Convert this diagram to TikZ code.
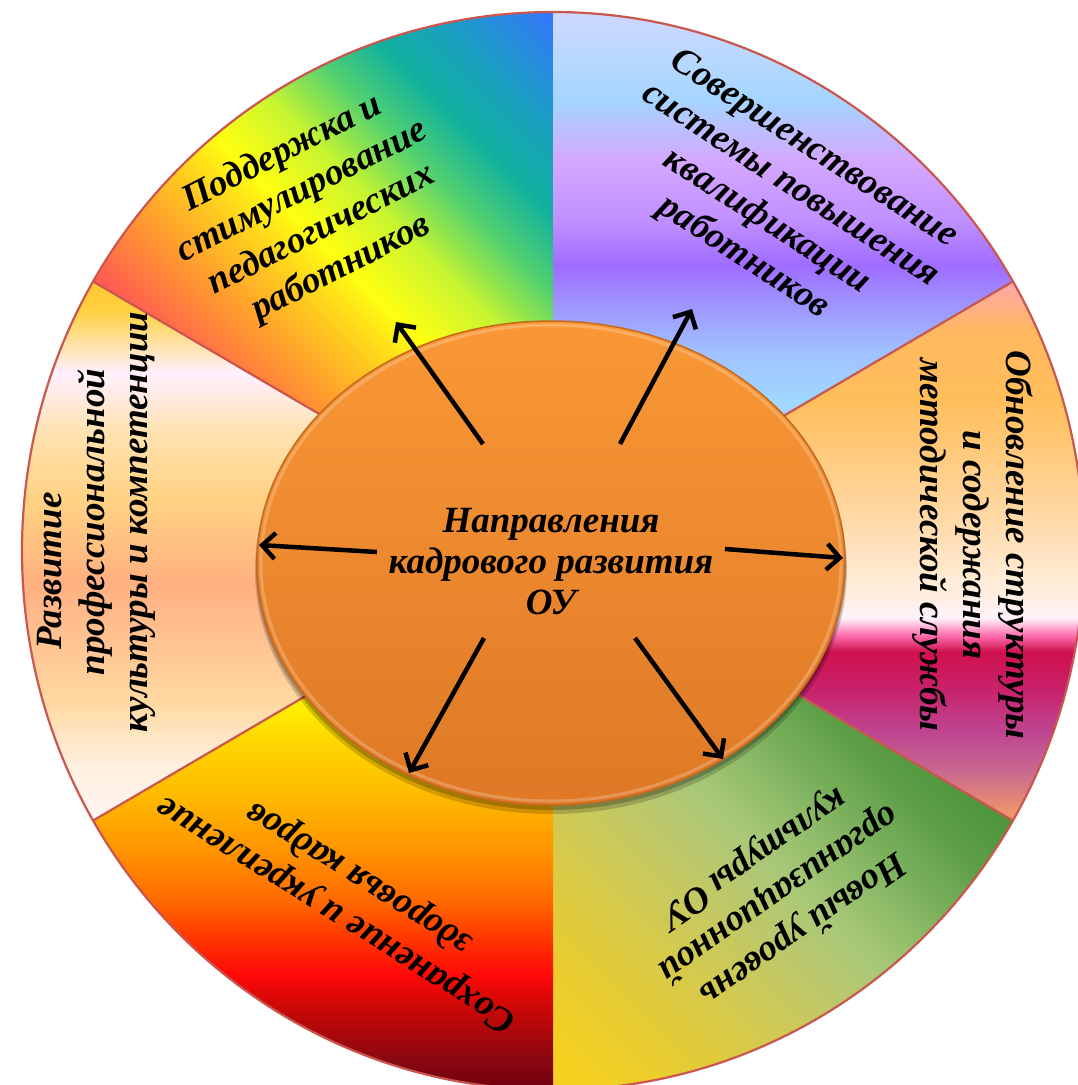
\documentclass[tikz,border=0pt]{standalone}
\usepackage{fontspec}
\setmainfont{Liberation Serif}
\usetikzlibrary{arrows.meta,calc}

\definecolor{ringline}{HTML}{C9574F}
\definecolor{orTop}{HTML}{FA9836}
\definecolor{orBot}{HTML}{DE7826}
\definecolor{orEdge}{HTML}{C4691F}

% sector 1 (top-left)
\definecolor{aA}{HTML}{FF4F5A}\definecolor{aB}{HTML}{FF8C35}\definecolor{aC}{HTML}{FFC820}
\definecolor{aD}{HTML}{FFFF10}\definecolor{aE}{HTML}{C8F530}\definecolor{aF}{HTML}{50D070}
\definecolor{aG}{HTML}{10B0A0}\definecolor{aH}{HTML}{1AA0C0}\definecolor{aI}{HTML}{3575FF}
\pgfdeclareverticalshading{shOne}{100bp}{color(0bp)=(aA); color(34.5bp)=(aA); color(39bp)=(aB); color(43.5bp)=(aC); color(47bp)=(aD); color(51bp)=(aE); color(55bp)=(aF); color(58.5bp)=(aG); color(62bp)=(aH); color(67.5bp)=(aI); color(100bp)=(aI)}

% sector 2 (top-right)
\definecolor{bA}{HTML}{B8D0FF}\definecolor{bB}{HTML}{A0D8FF}\definecolor{bC}{HTML}{A0C0FF}
\definecolor{bD}{HTML}{9E90FF}\definecolor{bE}{HTML}{A06CFF}\definecolor{bF}{HTML}{C090FF}
\definecolor{bG}{HTML}{D4A8FF}\definecolor{bH}{HTML}{A5D5FF}\definecolor{bI}{HTML}{B8D8FF}
\definecolor{bJ}{HTML}{D0D8FF}
\pgfdeclareverticalshading{shTwo}{100bp}{color(0bp)=(bA); color(36.25bp)=(bA); color(39.375bp)=(bB); color(42.5bp)=(bC); color(45.625bp)=(bD); color(47.8bp)=(bE); color(50.625bp)=(bF); color(54.375bp)=(bG); color(58.125bp)=(bH); color(60.625bp)=(bI); color(63.625bp)=(bJ); color(100bp)=(bJ)}

% sector 3 (right)
\definecolor{cA}{HTML}{F49C66}\definecolor{cB}{HTML}{C86890}\definecolor{cC}{HTML}{BE4490}
\definecolor{cD}{HTML}{C8236C}\definecolor{cE}{HTML}{D0104E}\definecolor{cF}{HTML}{FF70B0}
\definecolor{cG}{HTML}{FFF2FA}\definecolor{cH}{HTML}{FFEEDD}\definecolor{cI}{HTML}{FFD9A8}
\definecolor{cJ}{HTML}{FFBE5A}\definecolor{cK}{HTML}{FFB860}\definecolor{cL}{HTML}{FFA8A8}
\pgfdeclareverticalshading{shThree}{100bp}{color(0bp)=(cA); color(33.2bp)=(cA); color(36.3bp)=(cB); color(38.8bp)=(cC); color(41.3bp)=(cD); color(43.7bp)=(cE); color(44.75bp)=(cF); color(45.8bp)=(cG); color(47.55bp)=(cH); color(51.95bp)=(cI); color(59.45bp)=(cJ); color(63.8bp)=(cK); color(66.75bp)=(cL); color(100bp)=(cL)}

% sector 4 (bottom-right)
\definecolor{dA}{HTML}{F5D020}\definecolor{dB}{HTML}{E8CC30}\definecolor{dC}{HTML}{D8CA48}
\definecolor{dD}{HTML}{C0C868}\definecolor{dE}{HTML}{A8C878}\definecolor{dF}{HTML}{88B865}
\definecolor{dG}{HTML}{60A048}\definecolor{dH}{HTML}{4A9438}
\pgfdeclareverticalshading{shFour}{100bp}{color(0bp)=(dA); color(34.25bp)=(dA); color(38.7bp)=(dB); color(43.1bp)=(dC); color(48.4bp)=(dD); color(52.4bp)=(dE); color(56.35bp)=(dF); color(60.8bp)=(dG); color(65.2bp)=(dH); color(100bp)=(dH)}

% sector 5 (bottom-left)
\definecolor{eA}{HTML}{700010}\definecolor{eB}{HTML}{880810}\definecolor{eC}{HTML}{C00808}
\definecolor{eD}{HTML}{FF0808}\definecolor{eE}{HTML}{FF3A00}\definecolor{eF}{HTML}{FF6A00}
\definecolor{eG}{HTML}{FF9400}\definecolor{eH}{HTML}{FFBE00}\definecolor{eI}{HTML}{FFD200}
\definecolor{eJ}{HTML}{FFF200}
\pgfdeclareverticalshading{shFive}{100bp}{color(0bp)=(eA); color(37.95bp)=(eA); color(39.8bp)=(eB); color(42.625bp)=(eC); color(45.125bp)=(eD); color(47.625bp)=(eE); color(49.8bp)=(eF); color(52.95bp)=(eG); color(56.7bp)=(eH); color(59.2bp)=(eI); color(62.3bp)=(eJ); color(100bp)=(eJ)}

% sector 6 (left)
\definecolor{fA}{HTML}{FFF4F0}\definecolor{fB}{HTML}{FFF0E0}\definecolor{fC}{HTML}{FFD8A0}
\definecolor{fD}{HTML}{FFC090}\definecolor{fE}{HTML}{FFB080}\definecolor{fF}{HTML}{FFD283}
\definecolor{fG}{HTML}{FFE2B0}\definecolor{fH}{HTML}{FFF0FF}\definecolor{fI}{HTML}{FFD040}
\definecolor{fJ}{HTML}{FFC830}
\pgfdeclareverticalshading{shSix}{100bp}{color(0bp)=(fA); color(33.2bp)=(fA); color(36.5bp)=(fB); color(40.7bp)=(fC); color(44.875bp)=(fD); color(48bp)=(fE); color(53.2bp)=(fF); color(57.375bp)=(fG); color(61.125bp)=(fH); color(65.05bp)=(fI); color(66.75bp)=(fJ); color(100bp)=(fJ)}

\tikzset{
  lbl/.style={font=\fontsize{37}{43}\selectfont\bfseries\itshape, align=center, text=black, inner sep=0pt},
  arr/.style={line width=4.5pt, black, -{Straight Barb[length=13pt,width=26pt]}},
  sepline/.style={ringline, line width=2.2pt}
}

\begin{document}
\begin{tikzpicture}[x=1pt,y=1pt]
\useasboundingbox (0,0) rectangle (1077,-1085);
\fill[white] (0,0) rectangle (1077,-1085);

\coordinate (C) at (553,-551);
\coordinate (IC) at (551,-563);
\coordinate (ICa) at (551,-570);
\coordinate (ICb) at (551,-567);

% sectors
\begin{scope}
  \clip (C) -- ++(150:531pt and 539pt) arc[start angle=150, end angle=90, x radius=531pt, y radius=539pt] -- cycle;
  \shade[shading=shOne, shading angle=-45] (-47,-605) rectangle (753,195);
\end{scope}
\begin{scope}
  \clip (C) -- ++(90:531pt and 539pt) arc[start angle=90, end angle=30, x radius=531pt, y radius=539pt] -- cycle;
  \shade[shading=shTwo] (390,-630) rectangle (1190,170);
\end{scope}
\begin{scope}
  \clip (C) -- ++(30:531pt and 539pt) arc[start angle=30, end angle=-30, x radius=531pt, y radius=539pt] -- cycle;
  \shade[shading=shThree] (530,-951) rectangle (1330,-151);
\end{scope}
\begin{scope}
  \clip (C) -- ++(-30:531pt and 539pt) arc[start angle=-30, end angle=-90, x radius=531pt, y radius=539pt] -- cycle;
  \shade[shading=shFour, shading angle=-45] (353,-1297) rectangle (1153,-497);
\end{scope}
\begin{scope}
  \clip (C) -- ++(-90:531pt and 539pt) arc[start angle=-90, end angle=-150, x radius=531pt, y radius=539pt] -- cycle;
  \shade[shading=shFive] (-47,-1297) rectangle (753,-497);
\end{scope}
\begin{scope}
  \clip (C) -- ++(-150:531pt and 539pt) arc[start angle=-150, end angle=-210, x radius=531pt, y radius=539pt] -- cycle;
  \shade[shading=shSix] (-247,-951) rectangle (553,-151);
\end{scope}

% separators and rim
\draw[sepline] (C) -- ++(30:531pt and 539pt);
\draw[sepline] (C) -- ++(150:531pt and 539pt);
\draw[sepline] (C) -- ++(210:531pt and 539pt);
\draw[sepline] (C) -- ++(330:531pt and 539pt);
\draw[sepline] (C) ellipse [x radius=531pt, y radius=539pt];

% inner disc
\fill[black, opacity=0.18] (ICa) ellipse [x radius=296pt, y radius=244pt];
\fill[black, opacity=0.22] (ICb) ellipse [x radius=295pt, y radius=243pt];
\shade[top color=orTop, bottom color=orBot] (IC) ellipse [x radius=294pt, y radius=242pt];
\draw[white, opacity=0.22, line width=3pt] (IC) ellipse [x radius=290pt, y radius=238pt];
\draw[orEdge, line width=1.5pt] (IC) ellipse [x radius=294pt, y radius=242pt];

% sector labels
\node[lbl, rotate=27] (s1) at (312,-211) {Поддержка и\\стимулирование\\педагогических\\работников};
\node[lbl, rotate=-33] (s2) at (778,-204) {Совершенствование\\системы повышения\\квалификации\\работников};
\node[lbl, rotate=-90] (s3) at (973,-545) {Обновление структуры\\и содержания\\методической службы};
\node[lbl, rotate=215] (s4) at (778,-893) {Новый уровень\\организационной\\культуры ОУ};
\node[lbl, rotate=148] (s5) at (348,-895) {Сохранение и укрепление\\здоровья кадров};
\node[lbl, rotate=90] (s6) at (96,-522) {Развитие\hspace*{98pt}\\профессиональной\\культуры и компетенции};

% centre label
\node[lbl, font=\fontsize{37}{41}\selectfont\bfseries\itshape] (ctr) at (551,-562) {Направления\\кадрового развития\\ОУ};

% arrows
\coordinate (t1) at (483,-444); \coordinate (h1) at (396,-322);
\coordinate (t2) at (620,-444); \coordinate (h2) at (692,-309);
\coordinate (t3) at (725,-549); \coordinate (h3) at (843,-558);
\coordinate (t4) at (377,-552); \coordinate (h4) at (259,-545);
\coordinate (t5) at (484,-638); \coordinate (h5) at (409,-773);
\coordinate (t6) at (635,-638); \coordinate (h6) at (723,-759);
\draw[arr] (t1) -- (h1);
\draw[arr] (t2) -- (h2);
\draw[arr] (t3) -- (h3);
\draw[arr] (t4) -- (h4);
\draw[arr] (t5) -- (h5);
\draw[arr] (t6) -- (h6);
\end{tikzpicture}
\end{document}
